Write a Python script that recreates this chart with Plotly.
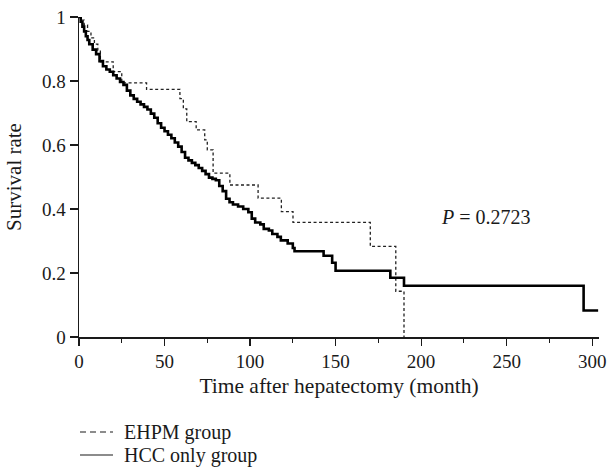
import plotly.graph_objects as go

# EHPM group (dashed) Kaplan-Meier steps
ehpm_time = [0, 1, 3, 5, 7, 9, 11, 12.5, 20, 25, 39.5, 59, 61, 63, 68.5, 73.5, 75, 78.4, 88.2, 104.7, 118.3, 125.1, 170.3, 185.2, 190]
ehpm_surv = [1.0, 0.99, 0.975, 0.955, 0.935, 0.915, 0.895, 0.86, 0.829, 0.794, 0.774, 0.745, 0.713, 0.673, 0.647, 0.616, 0.585, 0.512, 0.475, 0.434, 0.392, 0.358, 0.283, 0.143, 0.0]

# HCC only group (solid) Kaplan-Meier steps
hcc_time = [0, 1, 2, 3, 4, 5, 6, 8, 10, 12, 14, 16, 18, 20, 22, 24, 26, 28, 30, 32, 34, 36, 38, 40,
            42, 44, 46, 48, 50, 52, 54, 56, 58, 60, 62, 64, 66, 68, 70, 72, 74, 76, 78, 80, 82, 84,
            86, 88, 90, 93, 96, 99, 101, 103, 106, 108, 111, 113, 116, 118, 122, 125, 126, 143, 148,
            150, 182, 190, 295, 303.5]
hcc_surv = [1.0, 0.985, 0.97, 0.955, 0.94, 0.928, 0.915, 0.898, 0.884, 0.862, 0.846, 0.836, 0.829,
            0.818, 0.808, 0.797, 0.788, 0.770, 0.755, 0.744, 0.735, 0.727, 0.719, 0.711, 0.698, 0.685,
            0.668, 0.654, 0.643, 0.632, 0.621, 0.608, 0.595, 0.578, 0.560, 0.552, 0.544, 0.537, 0.528,
            0.519, 0.509, 0.498, 0.494, 0.490, 0.472, 0.456, 0.432, 0.421, 0.414, 0.408, 0.400, 0.390,
            0.370, 0.358, 0.352, 0.338, 0.333, 0.322, 0.313, 0.302, 0.292, 0.278, 0.268, 0.254, 0.232,
            0.207, 0.185, 0.160, 0.083, 0.083]

x_ticks = [0, 50, 100, 150, 200, 250, 300]
y_ticks = [0, 0.2, 0.4, 0.6, 0.8, 1]
y_ticklabels = ["0", "0.2", "0.4", "0.6", "0.8", "1"]
legend_names = ["EHPM group", "HCC only group"]

FONT = "Liberation Serif"
INK = "#1a1a1a"

fig = go.Figure()
fig.add_trace(go.Scatter(
    x=ehpm_time, y=ehpm_surv, mode="lines", line_shape="hv",
    line=dict(color="#222222", width=1.3, dash="3px,2.5px"),
    name=legend_names[0], cliponaxis=False, showlegend=False))
fig.add_trace(go.Scatter(
    x=hcc_time, y=hcc_surv, mode="lines", line_shape="hv",
    line=dict(color="#000000", width=2.6),
    name=legend_names[1], cliponaxis=False, showlegend=False))

fig.add_annotation(x=238, y=0.376, xref="x", yref="y", text="<i>P</i> = 0.2723",
                   showarrow=False, font=dict(family=FONT, size=20, color=INK))

# manual legend below the plot (paper coordinates)
# plot area: x 79..599 px, y 17..337 px
def px_x(p):
    return (p - 79) / 520.0

def px_y(p):
    return (337.0 - p) / 320.0

leg_rows = [(432, dict(color=INK, width=1.2, dash="6px,4px")),
            (455, dict(color=INK, width=1.2))]
for (ypx, ln), name in zip(leg_rows, legend_names):
    fig.add_shape(type="line", xref="paper", yref="paper",
                  x0=px_x(80), x1=px_x(113), y0=px_y(ypx), y1=px_y(ypx), line=ln)
    fig.add_annotation(xref="paper", yref="paper", x=px_x(122), y=px_y(ypx),
                       xanchor="left", yanchor="middle", text=name, showarrow=False,
                       font=dict(family=FONT, size=20, color=INK))

fig.update_layout(
    width=609, height=470,
    margin=dict(l=79, r=10, t=17, b=133, autoexpand=False),
    paper_bgcolor="white", plot_bgcolor="white",
    font=dict(family=FONT, size=19, color=INK),
    showlegend=False,
)
fig.update_xaxes(
    range=[0, 304], tickvals=x_ticks, ticks="outside", ticklen=7, tickwidth=1.2,
    tickcolor=INK, showline=True, linecolor=INK, linewidth=1.5,
    showgrid=False, zeroline=False, automargin=False,
    minor=dict(dtick=25, tick0=0, ticks="outside", ticklen=4, tickcolor=INK, tickwidth=1.2, showgrid=False),
    title=dict(text="Time after hepatectomy (month)", font=dict(family=FONT, size=21.5, color=INK), standoff=6),
    tickfont=dict(family=FONT, size=19, color=INK),
)
fig.update_yaxes(
    range=[0, 1], tickvals=y_ticks, ticktext=y_ticklabels, ticks="outside", ticklen=8,
    tickwidth=1.2, tickcolor=INK, showline=True, linecolor=INK, linewidth=1.5,
    showgrid=False, zeroline=False, automargin=False,
    title=dict(text="Survival rate", font=dict(family=FONT, size=21, color=INK), standoff=14),
    tickfont=dict(family=FONT, size=19, color=INK),
)

fig.write_html("out.html",
               config={"displayModeBar": False, "staticPlot": True},
               post_script="document.body.style.margin='0';document.body.style.overflow='hidden';")
